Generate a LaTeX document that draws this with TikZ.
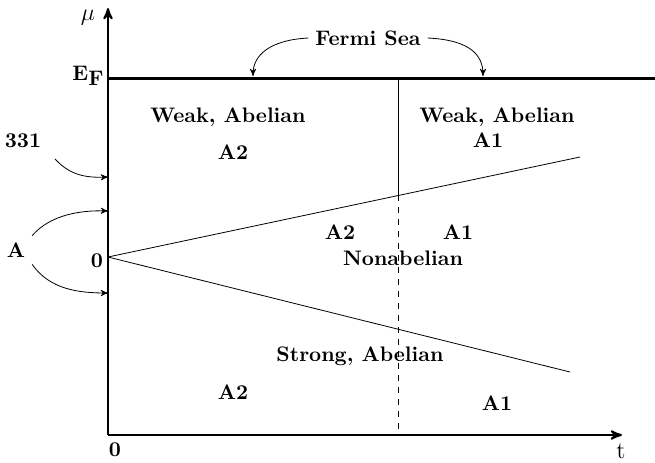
\documentclass[tikz,border=0pt]{standalone}
\usepackage{amsmath, amssymb}
\usepackage{tikz}
\usetikzlibrary{arrows}

\begin{document}
\begin{tikzpicture}[x=0.5pt, y=-0.5pt, lbl/.style={font=\fontsize{10.5}{12}\bfseries\selectfont}, pt/.style={-stealth', thin}]
\useasboundingbox (0,0) rectangle (655,462);
% axes
\coordinate (O) at (108,435);
\coordinate (Ytop) at (108,8);
\coordinate (Xend) at (622,435);
\coordinate (M) at (108,257);
\draw[-stealth', line width=1pt] (O) -- (Ytop);
\draw[-stealth', line width=1pt] (O) -- (Xend);
% Fermi level
\coordinate (EFl) at (108,78);
\coordinate (EFr) at (655,78);
\draw[line width=1.5pt] (EFl) -- (EFr);
% divide
\coordinate (Dt) at (398,78);
\coordinate (Dm) at (398,195);
\coordinate (Db) at (398,435);
\draw (Dt) -- (Dm);
\draw[dashed] (Dm) -- (Db);
% phase lines
\coordinate (U) at (580,157);
\coordinate (L) at (570,372);
\draw (M) -- (U);
\draw (M) -- (L);

\node[font=\large] (mu) at (88,18) {$\mu$};
\node[lbl] (EF) at (88,76) {E\raisebox{-0.5ex}{F}};
\node[font=\large] (t) at (621,451) {t};
\node[lbl] (zb) at (115,450) {0};
\node[lbl] (zm) at (97,261) {0};
\node[lbl] (fs) at (368,38) {Fermi Sea};
\node[lbl] (wa2) at (228,117) {Weak, Abelian};
\node[lbl] (a2u) at (233,152) {A2};
\node[lbl] (wa1) at (497,117) {Weak, Abelian};
\node[lbl] (a1u) at (488,140) {A1};
\node[lbl] (n331) at (23,141) {331};
\node[lbl] (A) at (16,250) {A};
\node[lbl] (a2m) at (340,232) {A2};
\node[lbl] (a1m) at (458,232) {A1};
\node[lbl] (nab) at (403,258) {Nonabelian};
\node[lbl] (sa) at (360,356) {Strong, Abelian};
\node[lbl] (a2b) at (233,392) {A2};
\node[lbl] (a1b) at (497,403) {A1};

% pointers
\coordinate (p331) at (108,177);
\coordinate (pA1) at (108,211);
\coordinate (pA2) at (108,293);
\coordinate (fsl) at (253,76);
\coordinate (fsr) at (483,76);
\draw[pt] (55,159) .. controls (70,175) and (85,178) .. (p331);
\draw[pt] (A.north east) .. controls (50,215) and (80,210) .. (pA1);
\draw[pt] (A.south east) .. controls (50,290) and (80,293) .. (pA2);
\draw[pt] (fs.west) .. controls (270,40) and (253,55) .. (fsl);
\draw[pt] (fs.east) .. controls (470,40) and (483,55) .. (fsr);
\end{tikzpicture}
\end{document}
